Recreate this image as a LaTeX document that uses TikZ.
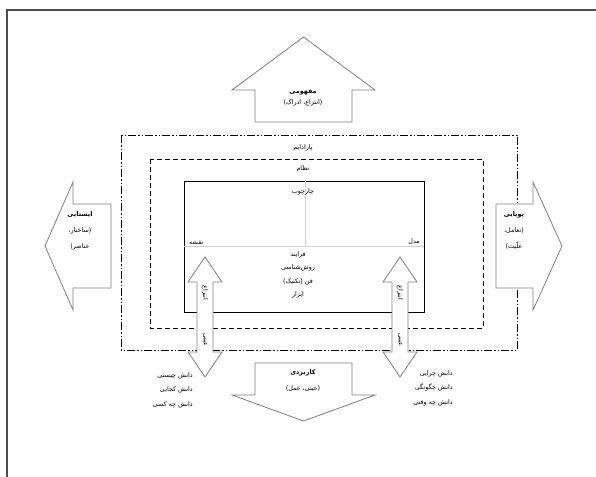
\documentclass[tikz,border=0pt]{standalone}
\usepackage{fontspec}
\newfontfamily\arabicfont[Script=Arabic]{DejaVu Sans}
\TeXXeTstate=1
\usepackage{tikz}
\usetikzlibrary{positioning}
\definecolor{arrowgray}{HTML}{808080}
\definecolor{crossgray}{HTML}{D0D0D0}
\newcommand{\fa}[1]{\beginR #1\endR}
\tikzset{
	fatext/.style={font=\arabicfont\fontsize{6.4}{16}\selectfont, align=center, inner sep=0pt},
	bigarrow/.style={draw=arrowgray, line width=0.8pt, fill=white, line join=miter},
	twoway/.style={draw=arrowgray, line width=0.8pt, fill=white},
	paradigmbox/.style={line width=0.8pt, dash pattern=on 8pt off 2pt on 1.5pt off 2pt on 1.5pt off 2pt},
	systembox/.style={line width=0.8pt, dash pattern=on 5pt off 3pt},
	framebox/.style={line width=0.9pt},
	crossline/.style={draw=crossgray, line width=0.4pt}
}

\begin{document}
\begin{tikzpicture}[x=1pt, y=-1pt]
		\clip (0,0) rectangle (596,476);
		% page border
		\draw [line width=1.3pt, black!70] (7,10) rectangle (640,520);
		
		% nested boxes
		\draw [paradigmbox] (121,135) rectangle (517,350);
		\draw [systembox] (150,159) rectangle (483,328);
		\draw [framebox] (184,181) rectangle (424,312);
		\draw [crossline] (305,181) -- (305,246);
		\draw [crossline] (184,246) -- (424,246);
		
		% block arrows
		\draw [bigarrow] (255,122) -- (255,90) -- (232,90) -- (303.5,37) -- (375,90) -- (352,90) -- (352,122) -- cycle;
		\draw [bigarrow] (255,363) -- (352,363) -- (352,395) -- (375,395) -- (303.5,421) -- (232,395) -- (255,395) -- cycle;
		\draw [bigarrow] (111,204) -- (73,204) -- (73,182) -- (45,246) -- (73,310) -- (73,288) -- (111,288) -- cycle;
		\draw [bigarrow] (496,204) -- (533,204) -- (533,182) -- (562,246) -- (533,310) -- (533,288) -- (496,288) -- cycle;
		
		% two-way arrows
		\draw [twoway] (205,257) -- (222,282) -- (213,282) -- (213,352) -- (222,352) -- (205,377) -- (188,352) -- (197,352) -- (197,282) -- (188,282) -- cycle;
		\draw [twoway] (400,257) -- (417,282) -- (408,282) -- (408,352) -- (417,352) -- (400,377) -- (383,352) -- (392,352) -- (392,282) -- (383,282) -- cycle;
		
		% box labels
		\node (paradigm) [fatext] at (303,148) {\fa{پارادایم}};
		\node (system) [fatext] at (303,169) {\fa{نظام}};
		\node (frame) [fatext] at (303,192) {\fa{چارچوب}};
		\node (map) [fatext, anchor=south west] at (189,245) {\fa{نقشه}};
		\node (model) [fatext, anchor=south east] at (420,245) {\fa{مدل}};
		\node (process) [fatext, font=\arabicfont\fontsize{6.4}{13.5}\selectfont] at (298,275) {\fa{فرایند}\\\fa{روش‌شناسی}\\\fa{فن (تکنیک)}\\\fa{ابزار}};
		
		% arrow labels
		\node (concept) [fatext, font=\arabicfont\fontsize{6.4}{11.5}\selectfont] at (303,98) {\textbf{\fa{مفهومی}}\\\fa{(انتزاع، ادراک)}};
		\node (static) [fatext] at (80,231) {\textbf{\fa{ایستایی}}\\\fa{(ساختار،}\\\fa{عناصر)}};
		\node (dynamic) [fatext] at (514,231) {\textbf{\fa{پویایی}}\\\fa{(تعامل،}\\\fa{علّیت)}};
		\node (applied) [fatext] at (303,381) {\textbf{\fa{کاربردی}}\\\fa{(عینی، عمل)}};
		
		% rotated labels
		\node (abstractL) [fatext, rotate=-90] at (205,293) {\fa{انتزاع}};
		\node (concreteL) [fatext, rotate=-90] at (205,340) {\fa{عینی}};
		\node (abstractR) [fatext, rotate=-90] at (400,293) {\fa{انتزاع}};
		\node (concreteR) [fatext, rotate=-90] at (400,340) {\fa{عینی}};
		
		% knowledge lists
		\node (knowwhat) [fatext, align=right, anchor=east, font=\arabicfont\fontsize{6.4}{14.5}\selectfont] at (193,390) {\fa{دانش چیستی}\\\fa{دانش کجایی}\\\fa{دانش چه کسی}};
		\node (knowwhy) [fatext, align=right, anchor=east, font=\arabicfont\fontsize{6.4}{14.5}\selectfont] at (453,388) {\fa{دانش چرایی}\\\fa{دانش چگونگی}\\\fa{دانش چه وقتی}};
	\end{tikzpicture}
\end{document}
